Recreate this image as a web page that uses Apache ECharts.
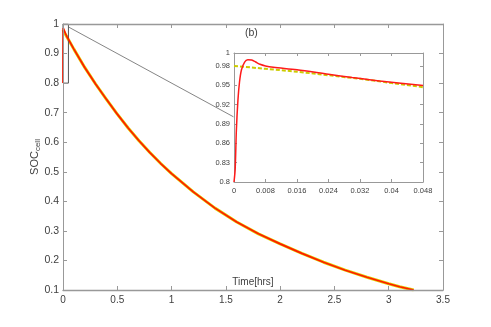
<!DOCTYPE html>
<html>
<head>
<meta charset="utf-8">
<script src="https://cdn.jsdelivr.net/npm/echarts@6/dist/echarts.min.js"></script>
<style>
  html, body { margin: 0; padding: 0; background: #fff; }
  #chart { width: 491px; height: 327px; }
</style>
</head>
<body>
<div id="chart"></div>
<script>
// main curve (hrs, SOC)
const mainTime = [0, 0.1, 0.2, 0.3, 0.4, 0.5, 0.6, 0.7, 0.8, 0.9, 1.0, 1.2, 1.4, 1.6, 1.8, 2.0, 2.2, 2.4, 2.6, 2.8, 3.0, 3.1, 3.23];
const mainSoc = [0.98, 0.915, 0.853, 0.797, 0.745, 0.695, 0.648, 0.605, 0.565, 0.528, 0.494, 0.432, 0.377, 0.330, 0.290, 0.256, 0.224, 0.194, 0.167, 0.143, 0.121, 0.111, 0.100];

// zoomed start (inset)
const insetTime = [0, 0.0003, 0.0006, 0.001, 0.0014, 0.0019, 0.0027, 0.0035, 0.0045, 0.0055, 0.0066, 0.008, 0.010, 0.016, 0.024, 0.030, 0.037, 0.048];
const insetRed = [0.8, 0.82, 0.88, 0.927, 0.955, 0.974, 0.986, 0.9895, 0.989, 0.986, 0.9825, 0.980, 0.978, 0.974, 0.967, 0.962, 0.9566, 0.9495];
const insetYellowTime = [0, 0.008, 0.016, 0.024, 0.032, 0.040, 0.048];
const insetYellow = [0.98, 0.9755, 0.971, 0.9655, 0.960, 0.9535, 0.947];

// zoom box and connector (main axes units)
const zoomBox = [[0, 0.8], [0.05, 0.8], [0.05, 1], [0, 1], [0, 0.8]];
const connector = [[0.05, 0.99], [1.57, 0.686]];

const zip = (xs, ys) => xs.map((x, i) => [x, ys[i]]);
const redMain = zip(insetTime, insetRed).concat(zip(mainTime.slice(1), mainSoc.slice(1)));

const axisColor = '#999';
const labelColor = '#404040';
const font = 'Liberation Sans, Arial, sans-serif';

function mirror(base, pos) {
  return Object.assign({}, base, {
    position: pos,
    axisLabel: { show: false },
    name: '',
    splitLine: { show: false }
  });
}

const mainX = {
  gridIndex: 0, type: 'value', min: 0, max: 3.5, interval: 0.5, z: 6,
  axisLine: { show: true, onZero: false, lineStyle: { color: axisColor, width: 1.3 } },
  axisTick: { inside: true, length: 4, lineStyle: { color: axisColor } },
  axisLabel: { color: labelColor, fontSize: 10, fontFamily: font, margin: 5 },
  splitLine: { show: false },
  name: 'Time[hrs]', nameLocation: 'middle', nameGap: -13, nameMoveOverlap: false,
  nameTextStyle: { color: labelColor, fontSize: 10, fontFamily: font }
};
const mainY = {
  gridIndex: 0, type: 'value', min: 0.1, max: 1, interval: 0.1, z: 6,
  axisLine: { show: true, onZero: false, lineStyle: { color: axisColor } },
  axisTick: { inside: true, length: 4, lineStyle: { color: axisColor } },
  axisLabel: { color: labelColor, fontSize: 10.5, fontFamily: font, margin: 4 },
  splitLine: { show: false },
  name: '{a|SOC}{b|cell}', nameLocation: 'middle', nameRotate: 90, nameGap: 21, nameMoveOverlap: false,
  nameTextStyle: {
    rich: {
      a: { fontSize: 11, color: labelColor, fontFamily: font },
      b: { fontSize: 8, color: labelColor, fontFamily: font, padding: [6, 0, 0, 0] }
    }
  }
};
const insetX = {
  gridIndex: 1, type: 'value', min: 0, max: 0.048, interval: 0.008, z: 6,
  axisLine: { show: true, onZero: false, lineStyle: { color: axisColor } },
  axisTick: { inside: true, length: 3, lineStyle: { color: axisColor } },
  axisLabel: { color: labelColor, fontSize: 7.5, fontFamily: font, margin: 5,
    formatter: v => String(+v.toFixed(3)) },
  splitLine: { show: false }
};
const insetY = {
  gridIndex: 1, type: 'value', min: 0.8, max: 1, interval: 0.03, z: 6,
  axisLine: { show: true, onZero: false, lineStyle: { color: axisColor } },
  axisTick: { inside: true, length: 3, lineStyle: { color: axisColor } },
  axisLabel: { color: labelColor, fontSize: 7.5, fontFamily: font, margin: 4,
    formatter: v => String(+v.toFixed(2)) },
  splitLine: { show: false }
};

const chart = echarts.init(document.getElementById('chart'), null, { renderer: 'canvas' });
chart.setOption({
  animation: false,
  backgroundColor: '#fff',
  grid: [
    { left: 63, top: 24, width: 380, height: 266, show: false },
    { left: 234, top: 53, width: 189, height: 129, show: false }
  ],
  xAxis: [mainX, mirror(mainX, 'top'), insetX, mirror(insetX, 'top')],
  yAxis: [mainY, mirror(mainY, 'right'), insetY, mirror(insetY, 'right')],
  graphic: [{
    type: 'text', left: 245, top: 28, z: 20,
    style: { text: '(b)', fill: labelColor, fontSize: 10.5, fontFamily: font }
  }],
  series: [
    { name: 'zoom', type: 'line', xAxisIndex: 0, yAxisIndex: 0, data: zoomBox, symbol: 'none',
      lineStyle: { color: '#555', width: 1 }, z: 3 },
    { name: 'connector', type: 'line', xAxisIndex: 0, yAxisIndex: 0, data: connector, symbol: 'none',
      lineStyle: { color: '#666', width: 0.8 }, z: 3 },
    { name: 'model', type: 'line', xAxisIndex: 0, yAxisIndex: 0, data: zip(mainTime, mainSoc), symbol: 'none',
      lineStyle: { color: '#e0d000', width: 3 }, z: 2 },
    { name: 'cell', type: 'line', xAxisIndex: 0, yAxisIndex: 0, data: redMain, symbol: 'none',
      lineStyle: { color: '#ff1a00', width: 1.7 }, z: 4 },
    { name: 'model zoom', type: 'line', xAxisIndex: 2, yAxisIndex: 2, data: zip(insetYellowTime, insetYellow), symbol: 'none',
      lineStyle: { color: '#cccc00', width: 2, type: [4, 2] }, z: 10 },
    { name: 'cell zoom', type: 'line', xAxisIndex: 2, yAxisIndex: 2, data: zip(insetTime, insetRed), symbol: 'none',
      smooth: 0.3, lineStyle: { color: '#ff1a1a', width: 1.5 }, z: 11 }
  ]
});
</script>
</body>
</html>
